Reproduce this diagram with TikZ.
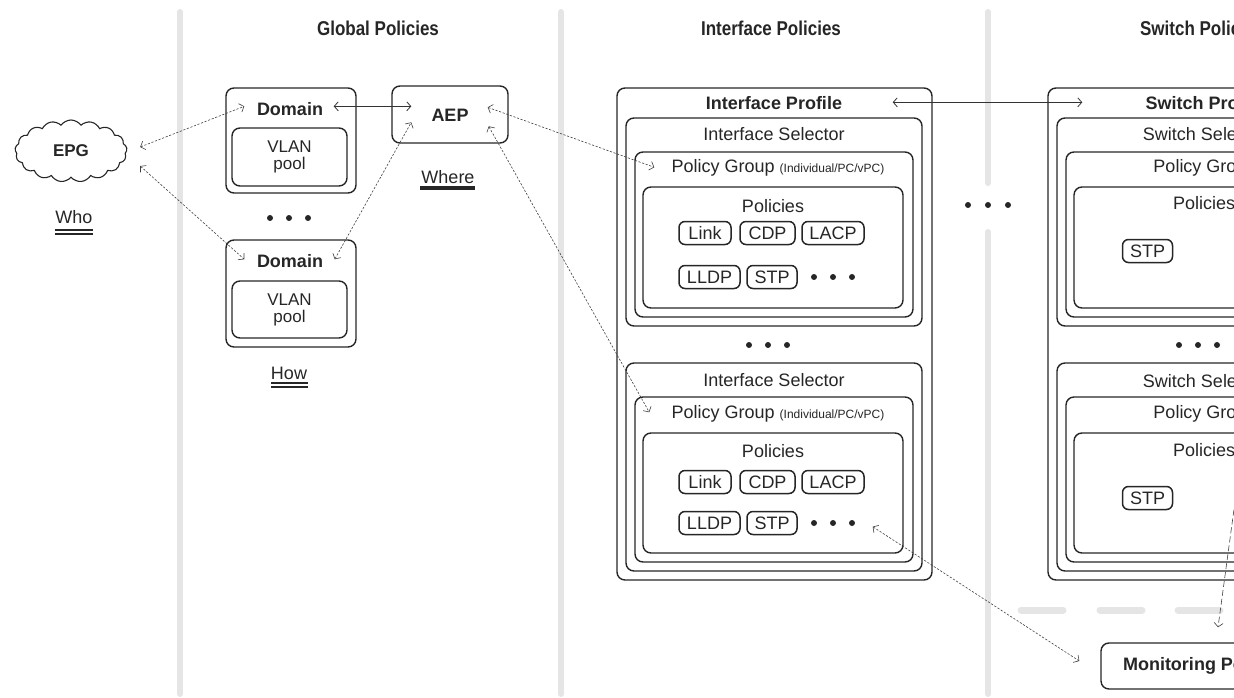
\documentclass[tikz,border=0pt]{standalone}
\usepackage{fontspec}
\setmainfont{Liberation Sans}
\newfontfamily\headfont[FakeStretch=0.85]{Liberation Sans}
\usetikzlibrary{calc,positioning,shapes.symbols,arrows.meta}

\tikzset{
  box/.style={draw=black!85, line width=1.4pt, rounded corners=8pt, inner sep=0pt},
  txt/.style={inner sep=1pt, text=black!85, font=\fontsize{18}{18}\selectfont},
  btxt/.style={txt, font=\fontsize{18}{18}\selectfont\bfseries},
  head/.style={txt, font=\headfont\fontsize{20}{22}\selectfont\bfseries},
  tag/.style={box, line width=1.5pt, rounded corners=6pt, minimum height=23pt, inner xsep=6pt, text=black!85, font=\fontsize{18}{18}\selectfont},
  divider/.style={line width=6pt, draw=black!10, line cap=round},
  dlink/.style={draw=black!75, line width=0.6pt, dash pattern=on 2.2pt off 1.6pt, {Straight Barb[length=4pt,width=9pt]}-{Straight Barb[length=4pt,width=9pt]}},
  slink/.style={draw=black!80, line width=0.8pt, {Straight Barb[length=4pt,width=9pt]}-{Straight Barb[length=4pt,width=9pt]}},
  uline/.style={draw=black!85, line width=1.2pt}
}

\begin{document}
\begin{tikzpicture}[x=1pt, y=-1pt]
\useasboundingbox (0,0) rectangle (1234,698);
\clip (0,0) rectangle (1234,698);

% column dividers
\draw[divider] (180,12) -- (180,694);
\draw[divider] (561,12) -- (561,694);
\draw[divider] (988,12) -- (988,183);
\draw[divider] (988,232) -- (988,694);
\foreach \x in {1021,1100,1178}
  \draw[divider, line width=7pt] (\x,610) -- +(42,0);
\foreach \x in {-20,0,20}
  \fill[black!85] (988+\x,205) circle (3pt);

% headings
\node[head] (hglobal) at (378,28) {Global Policies};
\node[head] (hifc) at (771,28) {Interface Policies};
\node[head] (hsw) at (1202,28) {Switch Policies};

% who
\node[cloud, draw=black!85, line width=1.1pt, cloud puffs=17, cloud puff arc=110, aspect=1.9,
  minimum width=112pt, minimum height=62pt, font=\fontsize{17}{17}\selectfont\bfseries, text=black!85] (epg) at (71,151) {EPG};
\node[txt] (who) at (74,217) {Who};
\draw[uline] (55,230) -- (93,230);
\draw[uline] (55,234) -- (93,234);

% how
\node[box, minimum width=130pt, minimum height=105pt] (dom1) at (291,140.5) {};
\node[box, minimum width=115pt, minimum height=58pt] (vlan1) at (289.5,157) {};
\node[btxt] (dom1t) at (290,109) {Domain};
\node[txt, align=center, font=\fontsize{17}{17}\selectfont] at (vlan1) {VLAN\\pool};
\foreach \x in {-19,0,19}
  \fill[black!85] (289+\x,218) circle (3pt);
\node[box, minimum width=130pt, minimum height=107pt] (dom2) at (291,293.5) {};
\node[box, minimum width=115pt, minimum height=57pt] (vlan2) at (289.5,309.5) {};
\node[btxt] (dom2t) at (290,261) {Domain};
\node[txt, align=center, font=\fontsize{17}{17}\selectfont] at (vlan2) {VLAN\\pool};
\node[txt] (how) at (289,373) {How};
\draw[uline] (271,383) -- (308,383);
\draw[uline] (271,387) -- (308,387);

% where
\node[box, minimum width=116pt, minimum height=57pt] (aep) at (450,114.5) {};
\node[btxt] (aept) at (450,115) {AEP};
\node[txt] (where) at (448,177) {Where};
\draw[uline, line width=3.5pt] (420,188) -- (475,188);

% interface profile
\node[box, minimum width=315pt, minimum height=492pt] (ifcprof) at (774.5,334) {};
\node[btxt] at (774,103) {Interface Profile};
\node[box, minimum width=296pt, minimum height=208pt] (ifcsel1) at (774,222) {};
\node[txt] at (774,134) {Interface Selector};
\node[box, minimum width=278pt, minimum height=165pt] (ifcpg1) at (774,234.5) {};
\node[txt] at (778,168) {Policy Group {\fontsize{12}{12}\selectfont (Individual/PC/vPC)}};
\node[box, minimum width=260pt, minimum height=121pt] (ifcpol1) at (773,247.5) {};
\node[txt] at (773,206) {Policies};
\node[tag, minimum width=52pt] (link1) at (705,233) {Link};
\node[tag, minimum width=55pt] (cdp1) at (767.5,233) {CDP};
\node[tag, minimum width=62pt] (lacp1) at (833,233) {LACP};
\node[tag, minimum width=61pt] (lldp1) at (709.5,277) {LLDP};
\node[tag, minimum width=50pt] (stp1) at (772,277) {STP};
\foreach \x in {-19,0,19}
  \fill[black!85] (833+\x,277) circle (3pt);
\foreach \x in {-19,0,19}
  \fill[black!85] (768+\x,345) circle (3pt);
\node[box, minimum width=296pt, minimum height=208pt] (ifcsel2) at (774,467) {};
\node[txt] at (774,380) {Interface Selector};
\node[box, minimum width=278pt, minimum height=165pt] (ifcpg2) at (774,479.5) {};
\node[txt] at (778,414) {Policy Group {\fontsize{12}{12}\selectfont (Individual/PC/vPC)}};
\node[box, minimum width=260pt, minimum height=120pt] (ifcpol2) at (773,493) {};
\node[txt] at (773,451) {Policies};
\node[tag, minimum width=52pt] (link2) at (705,482) {Link};
\node[tag, minimum width=55pt] (cdp2) at (767.5,482) {CDP};
\node[tag, minimum width=62pt] (lacp2) at (833,482) {LACP};
\node[tag, minimum width=61pt] (lldp2) at (709.5,523) {LLDP};
\node[tag, minimum width=50pt] (stp2) at (772,523) {STP};
\foreach \x in {-19,0,19}
  \fill[black!85] (833+\x,523) circle (3pt);

% switch profile
\begin{scope}[xshift=431pt]
\node[box, minimum width=315pt, minimum height=492pt] (swprof) at (774.5,334) {};
\node[btxt] at (774,103) {Switch Profile};
\node[box, minimum width=296pt, minimum height=208pt] (swsel1) at (774,222) {};
\node[txt] at (774,134) {Switch Selector};
\node[box, minimum width=278pt, minimum height=165pt] (swpg1) at (774,234.5) {};
\node[txt] at (774,168) {Policy Group};
\node[box, minimum width=260pt, minimum height=121pt] (swpol1) at (773,247.5) {};
\node[txt] at (773,203) {Policies};
\node[tag, minimum width=50pt] (swstp1) at (716.5,251) {STP};
\foreach \x in {-19,0,19}
  \fill[black!85] (767+\x,345) circle (3pt);
\node[box, minimum width=296pt, minimum height=208pt] (swsel2) at (774,467) {};
\node[txt] at (774,381) {Switch Selector};
\node[box, minimum width=278pt, minimum height=165pt] (swpg2) at (774,479.5) {};
\node[txt] at (774,414) {Policy Group};
\node[box, minimum width=260pt, minimum height=120pt] (swpol2) at (773,493) {};
\node[txt] at (773,450) {Policies};
\node[tag, minimum width=50pt] (swstp2) at (716.5,498) {STP};
\end{scope}

% monitoring
\node[box, minimum width=210pt, minimum height=46pt] (mon) at (1206,666) {};
\node[btxt] at (mon) {Monitoring Policies};
\coordinate (swout) at (1240,465);

% links
\draw[dlink] ($(epg.east)+(13,-4)$) -- ($(dom1.north west)+(19,19)$);
\draw[dlink] ($(epg.east)+(13,15)$) -- ($(dom2.north west)+(19,20)$);
\draw[slink] ($(dom1.north east)+(-23,19)$) -- ($(aep.north west)+(20,21)$);
\draw[dlink] ($(dom2.north east)+(-22,20)$) -- ($(aep.north west)+(20,37)$);
\draw[dlink] ($(aep.north east)+(-21,22)$) -- ($(ifcpg1.north west)+(20,16)$);
\draw[dlink] ($(aep.north east)+(-20,41)$) -- ($(ifcpg2.north west)+(15,16)$);
\draw[slink] ($(ifcprof.north east)+(-40,15)$) -- ($(swprof.north west)+(35,15)$);
\draw[dlink] ($(ifcpol2.south east)+(-31,-27)$) -- ($(mon.west)+(-21,-5)$);
\draw[draw=black!75, line width=0.6pt, dash pattern=on 6pt off 3pt, -{Straight Barb[length=4pt,width=9pt]}]
  (swout) -- ($(mon.north)+(12,-15)$);
\end{tikzpicture}
\end{document}
